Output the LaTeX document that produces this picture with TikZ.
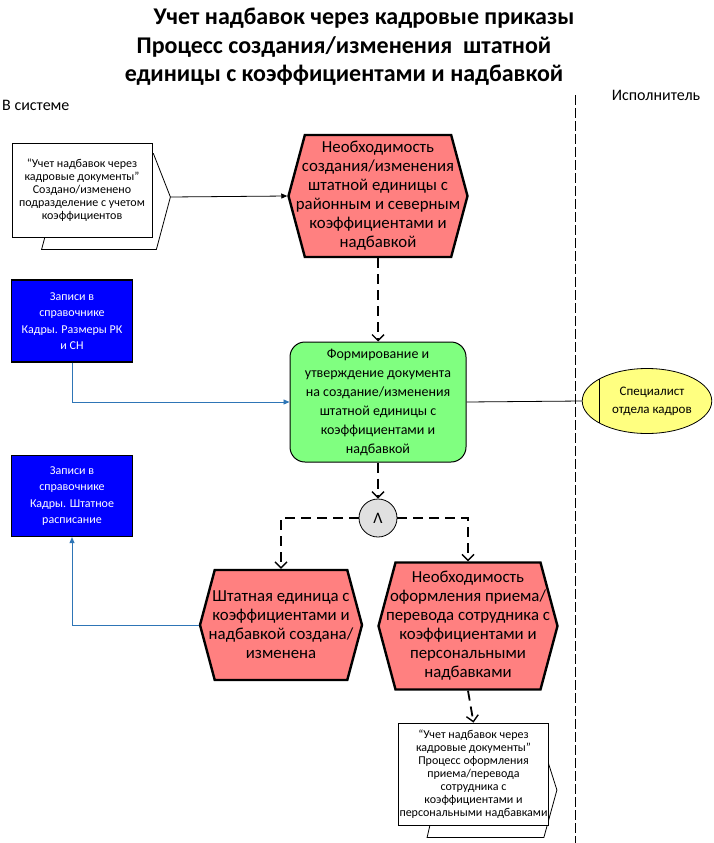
\documentclass[tikz,border=0pt]{standalone}
\usepackage{fontspec}
\setmainfont{Carlito}
\usetikzlibrary{arrows.meta,shapes.geometric,shapes.symbols,positioning,backgrounds}
\definecolor{evfill}{RGB}{255,128,128}
\definecolor{fnfill}{RGB}{128,255,128}
\definecolor{refblue}{RGB}{0,0,255}
\definecolor{orgfill}{RGB}{255,255,128}
\definecolor{andfill}{RGB}{224,224,224}
\definecolor{linkblue}{RGB}{46,117,182}
\tikzset{
  titletext/.style={align=center, inner sep=0pt, font=\fontsize{24}{28.5}\selectfont\bfseries},
  lanetext/.style ={inner sep=2pt, font=\fontsize{16}{18}\selectfont},
  eventhex/.style ={signal, signal to=west and east, signal pointer angle=150, draw=black,
    line width=2.4pt, fill=evfill, align=center, inner ysep=1pt, inner xsep=-12pt,
    font=\fontsize{16.8}{19}\selectfont},
  funcbox/.style  ={rectangle, rounded corners=15pt, draw=black, line width=1pt, fill=fnfill,
    align=center, inner sep=1pt, font=\fontsize{14}{19}\selectfont},
  docbox/.style   ={rectangle, draw=black, line width=0.8pt, fill=white, align=center,
    inner sep=1pt, font=\fontsize{12}{13}\selectfont},
  docback/.style  ={draw=black, line width=0.8pt, fill=white},
  refbox/.style   ={rectangle, draw=black, line width=1.2pt, fill=refblue, text=white,
    align=center, inner sep=1pt, font=\fontsize{12}{16.5}\selectfont},
  orgunit/.style  ={ellipse, draw=black, line width=0.8pt, fill=orgfill, align=center,
    inner sep=1pt, font=\fontsize{13}{18}\selectfont},
  andgate/.style  ={circle, draw=black, line width=0.8pt, fill=andfill, minimum size=38pt,
    inner sep=0pt, font=\fontsize{16}{16}\selectfont},
  laneline/.style ={draw=black, line width=0.8pt, dash pattern=on 10pt off 3pt},
  flow/.style     ={line width=1.8pt, dash pattern=on 10pt off 6pt,
    -{Straight Barb[length=6pt,width=12pt,line width=1.4pt]}},
  infolink/.style ={draw=linkblue, line width=0.9pt, -{Triangle[length=6pt,width=5pt]}},
  orglink/.style  ={draw=black, line width=0.8pt}
}
\begin{document}
\begin{tikzpicture}[x=1pt,y=-1pt]
\useasboundingbox (0,0) rectangle (714,843);

% header
\node[titletext] (t1) at (364,18) {Учет надбавок через кадровые приказы};
\node[titletext] (t2) at (344,61) {Процесс создания/изменения \ штатной\\единицы с коэффициентами и надбавкой};
\node[lanetext, anchor=west] (lane1) at (0,105) {В системе};
\node[lanetext] (lane2) at (656,95) {Исполнитель};

% lane border
\coordinate (lt) at (575,95);
\coordinate (lb) at (575,843);
\draw[laneline] (lt) -- (lb);

% shapes
\node[docbox, minimum width=140pt, minimum height=94pt] (d1) at (82,190)
  {“Учет надбавок через\\кадровые документы”\\Создано/изменено\\подразделение с учетом\\коэффициентов};
\node[eventhex, minimum width=179pt, minimum height=122pt] (h1) at (378,196)
  {Необходимость\\создания/изменения\\штатной единицы с\\районным и северным\\коэффициентами и\\надбавкой};
\node[refbox, minimum width=121pt, minimum height=82pt] (r1) at (72,321)
  {Записи в\\справочнике\\Кадры. Размеры РК\\и СН};
\node[funcbox, minimum width=176pt, minimum height=120pt] (f1) at (378,402)
  {Формирование и\\утверждение документа\\на создание/изменения\\штатной единицы с\\коэффициентами и\\надбавкой};
\node[orgunit, minimum width=125pt, minimum height=65pt] (o1) at (647,401)
  {\hspace*{10pt}Специалист\\\hspace*{10pt}отдела кадров};
\node[andgate] (x1) at (378,518) {Λ};
\node[refbox, minimum width=121pt, minimum height=81pt] (r2) at (72,496)
  {Записи в\\справочнике\\Кадры. Штатное\\расписание};
\node[eventhex, minimum width=162pt, minimum height=110pt] (h2) at (281,625)
  {Штатная единица с\\коэффициентами и\\надбавкой создана/\\изменена};
\node[eventhex, minimum width=179pt, minimum height=127pt] (h3) at (468,626)
  {Необходимость\\оформления приема/\\перевода сотрудника с\\коэффициентами и\\персональными\\надбавками};
\node[docbox, minimum width=149pt, minimum height=102pt] (d2) at (473.5,774)
  {“Учет надбавок через\\кадровые документы”\\Процесс оформления\\приема/перевода\\сотрудника с\\коэффициентами и\\персональными надбавками};

% back sheets of the document shapes
\begin{scope}[on background layer]
  \draw[docback] ([shift={(1,11)}]d1.north east) -- ([shift={(18,7)}]d1.east) coordinate (d1tip)
    -- ([shift={(4,12)}]d1.south east) -- ([shift={(30,12)}]d1.south west)
    -- ([shift={(44,7)}]d1.west) -- ([shift={(30,11)}]d1.north west) -- cycle;
  \draw[docback] ([shift={(-7,20)}]d2.north east) -- ([shift={(8,16)}]d2.east)
    -- ([shift={(-5,12)}]d2.south east) -- ([shift={(29,12)}]d2.south west)
    -- ([shift={(40,16)}]d2.west) -- ([shift={(29,20)}]d2.north west) -- cycle;
\end{scope}

% connectors
\draw[orglink, -{Triangle[length=6pt,width=5pt]}] (d1tip) -- (h1.west);
\draw[flow] (h1.south) -- (f1.north);
\draw[infolink] (r1.south) |- (f1.west);
\draw[orglink] (f1.east) -- (o1.west);
\draw[orglink] (o1.155) -- (o1.205);
\draw[flow] (f1.south) -- (x1.north);
\draw[flow] (x1.west) -| (h2.north);
\draw[flow] (x1.east) -| (h3.north);
\draw[infolink] (h2.west) -| (r2.south);
\draw[flow] (h3.south) -- (d2.north);
\end{tikzpicture}
\end{document}
